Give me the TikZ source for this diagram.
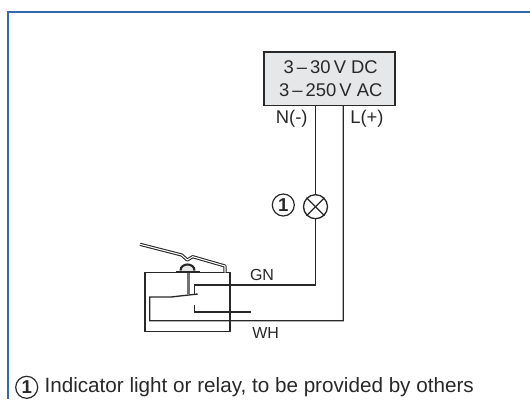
\documentclass[tikz,border=0pt]{standalone}
\usepackage{fontspec}
\setmainfont{Liberation Sans}
\definecolor{framecol}{RGB}{50,105,175}
\definecolor{boxfill}{RGB}{230,231,232}
\definecolor{inkcol}{RGB}{40,40,40}
\begin{document}
\begin{tikzpicture}[x=0.75pt,y=0.75pt]
\tikzstyle{every node}+=[inner sep=0pt,text=inkcol]
\tikzstyle{wire}=[inkcol,line width=1pt]
\tikzstyle{lbl}=[font=\fontsize{13.8pt}{15pt}\selectfont]
\tikzstyle{tag}=[font=\fontsize{12pt}{14pt}\selectfont]
\tikzstyle{numring}=[draw=inkcol,circle,line width=0.9pt,minimum size=16.5pt,font=\fontsize{14pt}{15pt}\selectfont]
\useasboundingbox (0,-399) rectangle (530,0);
\coordinate (frameb) at (8,-399);
\coordinate (framec) at (8,-12);
\coordinate (framer) at (530,-12);
\draw [framecol,line width=1.3pt] (frameb) -- (framec) -- (framer);
% supply
\node [draw=inkcol,fill=boxfill,line width=1.3pt,minimum width=98.5pt,minimum height=40pt] (supply) at (329.3,-78.8) {};
\node [lbl] (dc) at (330.7,-67.3) {3\,–\,30\,V DC};
\node [lbl] (ac) at (330.7,-90) {3\,–\,250\,V AC};
\node [lbl] (nlbl) at (291.7,-118.7) {N(-)};
\node [lbl] (llbl) at (367,-118.7) {L(+)};
% lamp
\node [draw=inkcol,circle,line width=1pt,minimum size=18pt] (lamp) at (315.5,-206.7) {};
\draw [wire] (lamp.45) -- (lamp.225);
\draw [wire] (lamp.135) -- (lamp.315);
\node [numring] (num) at (283.3,-205) {\textbf{1}};
% switch
\node [draw=inkcol,line width=1.1pt,minimum width=63.8pt,minimum height=44.2pt] (switch) at (187.5,-302.2) {};
\node [tag] (gn) at (262,-275.3) {GN};
\node [tag] (wh) at (265.7,-333.3) {WH};
% wires
\coordinate (nout) at (315.5,-105.5);
\coordinate (lout) at (343.2,-105.5);
\coordinate (gncorner) at (315.5,-285);
\coordinate (gnhook) at (194.3,-285);
\coordinate (gnend) at (194.3,-294);
\coordinate (lcorner) at (343.2,-320.7);
\coordinate (comcorner) at (149.7,-320.7);
\coordinate (comtop) at (149.7,-297);
\coordinate (combend) at (171,-297);
\coordinate (comtip) at (197.7,-294);
\coordinate (notop) at (194.3,-304.7);
\coordinate (nocorner) at (194.3,-312);
\coordinate (noend) at (250.7,-312);
\draw [wire] (nout) -- (lamp.north);
\draw [wire] (lamp.south) -- (gncorner) -- (gnhook) -- (gnend);
\draw [wire] (lout) -- (lcorner) -- (comcorner) -- (comtop) -- (combend) -- (comtip);
\draw [wire] (notop) -- (nocorner) -- (noend);
% plunger, nut and lever
\coordinate (plungertop) at (188.3,-272.7);
\coordinate (plungerend) at (188.3,-294.3);
\draw [inkcol!65,line width=2pt] (plungertop) -- (plungerend);
\fill [inkcol] (176,-273) rectangle (200,-271);
\draw [inkcol,line width=1.6pt,fill=boxfill] (180.5,-270.5) .. controls (180.5,-262.5) and (194.5,-262.5) .. (194.5,-270.5);
\draw [inkcol,line width=0.8pt,double=white,double distance=0.8pt,line join=round] (140,-244.3) -- (181.7,-255) -- (187.3,-260) -- (192.7,-256.7) -- (225,-266) -- (225,-272.7);
% footnote
\node [numring] (fnum) at (26.7,-387.3) {\textbf{1}};
\node [anchor=base west,font=\fontsize{15.5pt}{17pt}\selectfont] (fnote) at (44.3,-392.7) {Indicator light or relay, to be provided by others};
\end{tikzpicture}
\end{document}
